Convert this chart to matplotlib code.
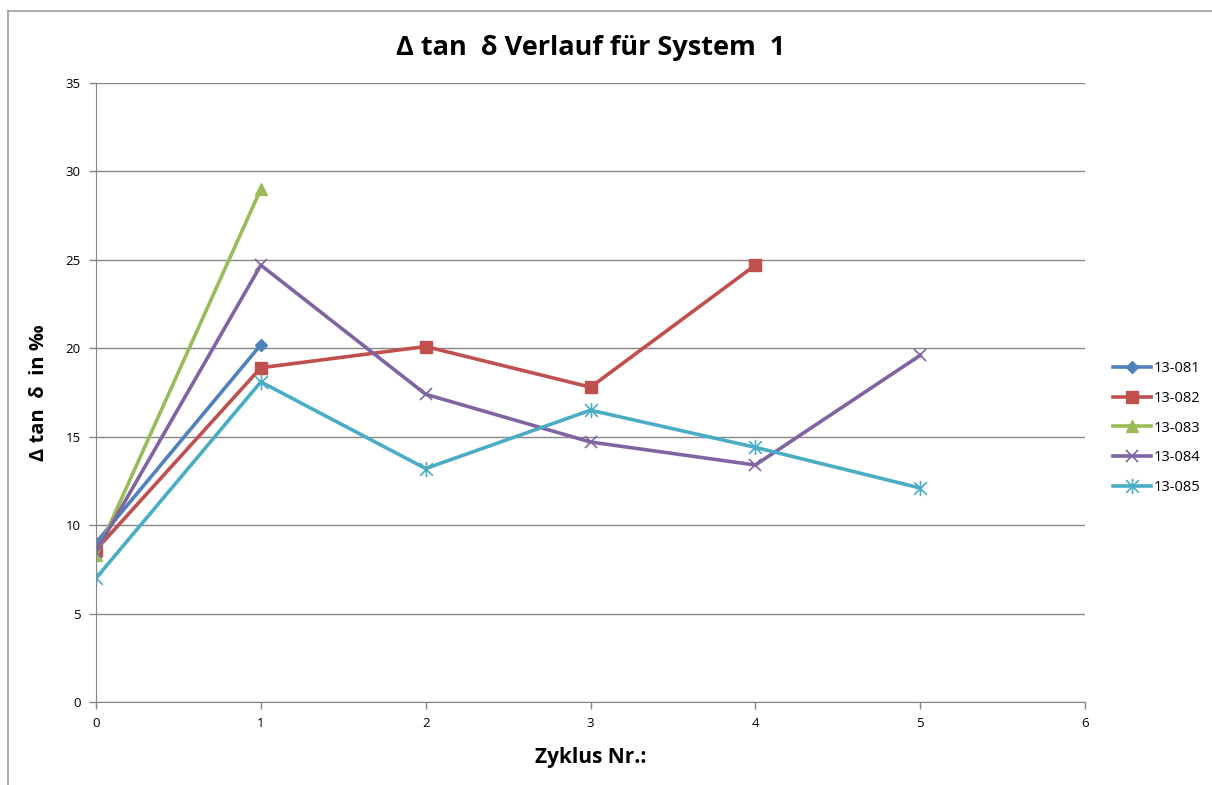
import numpy as np
import matplotlib.pyplot as plt
from matplotlib.path import Path
from matplotlib.lines import Line2D

plt.rcParams['font.family'] = ['Open Sans', 'DejaVu Sans']

# data
x081 = [0, 1]
y081 = [9.0, 20.2]
x082 = [0, 1, 2, 3, 4]
y082 = [8.6, 18.9, 20.1, 17.8, 24.7]
x083 = [0, 1]
y083 = [8.3, 29.0]
x084 = [0, 1, 2, 3, 4, 5]
y084 = [8.5, 24.7, 17.4, 14.7, 13.4, 19.6]
x085 = [0, 1, 2, 3, 4, 5]
y085 = [7.0, 18.1, 13.2, 16.5, 14.4, 12.1]
labels = ['13-081', '13-082', '13-083', '13-084', '13-085']
colors = ['#4F81BD', '#C0504D', '#9BBB59', '#8064A2', '#4BACC6']

# excel style star: x with a vertical bar
star = Path([(-1, -1), (1, 1), (-1, 1), (1, -1), (0, -1.2), (0, 1.2)],
            [Path.MOVETO, Path.LINETO, Path.MOVETO, Path.LINETO, Path.MOVETO, Path.LINETO])

fig = plt.figure(figsize=(12.12, 7.85), dpi=100)
ax = fig.add_axes([96/1212, 1-702/785, (1085-96)/1212, (702-83)/785])

lw = 2.6
ax.plot(x081, y081, color=colors[0], lw=lw, marker='D', ms=6, label=labels[0])
ax.plot(x082, y082, color=colors[1], lw=lw, marker='s', ms=8, label=labels[1])
ax.plot(x083, y083, color=colors[2], lw=lw, marker='^', ms=8, label=labels[2])
ax.plot(x084, y084, color=colors[3], lw=lw, marker='x', ms=9, mew=1.2, label=labels[3])
ax.plot(x085, y085, color=colors[4], lw=lw, marker=star, ms=11, mew=1.2, label=labels[4])

ax.set_xlim(0, 6)
ax.set_ylim(0, 35)
ax.set_xticks(np.arange(0, 7, 1))
ax.set_yticks(np.arange(0, 36, 5))
ax.yaxis.grid(True, color='#868686', lw=1)
ax.set_axisbelow(True)
for s in ['top', 'right']:
    ax.spines[s].set_visible(False)
for s in ['left', 'bottom']:
    ax.spines[s].set_color('#868686')
ax.tick_params(colors='#868686', labelcolor='black', labelsize=9.5, length=5, width=1, pad=6)

ax.set_title('Δ tan  δ Verlauf für System  1', fontsize=19.5, fontweight='bold', pad=20)
ax.set_xlabel('Zyklus Nr.:', fontsize=15, fontweight='bold', labelpad=12)
ax.set_ylabel('Δ tan  δ  in ‰', fontsize=14.5, fontweight='bold', labelpad=12)

leg = ax.legend(loc='center left', bbox_to_anchor=(1.015, 1-(428-83)/619), frameon=False,
                fontsize=10.5, handlelength=2.6, handletextpad=0.2, labelspacing=1.0)

# outer chart border (left and top visible)
fig.add_artist(Line2D([8/1212, 8/1212], [0, 1-11/785], color='#a0a0a0', lw=1.2))
fig.add_artist(Line2D([8/1212, 1], [1-11/785, 1-11/785], color='#a0a0a0', lw=1.2))

plt.savefig('out.png', dpi=100)
